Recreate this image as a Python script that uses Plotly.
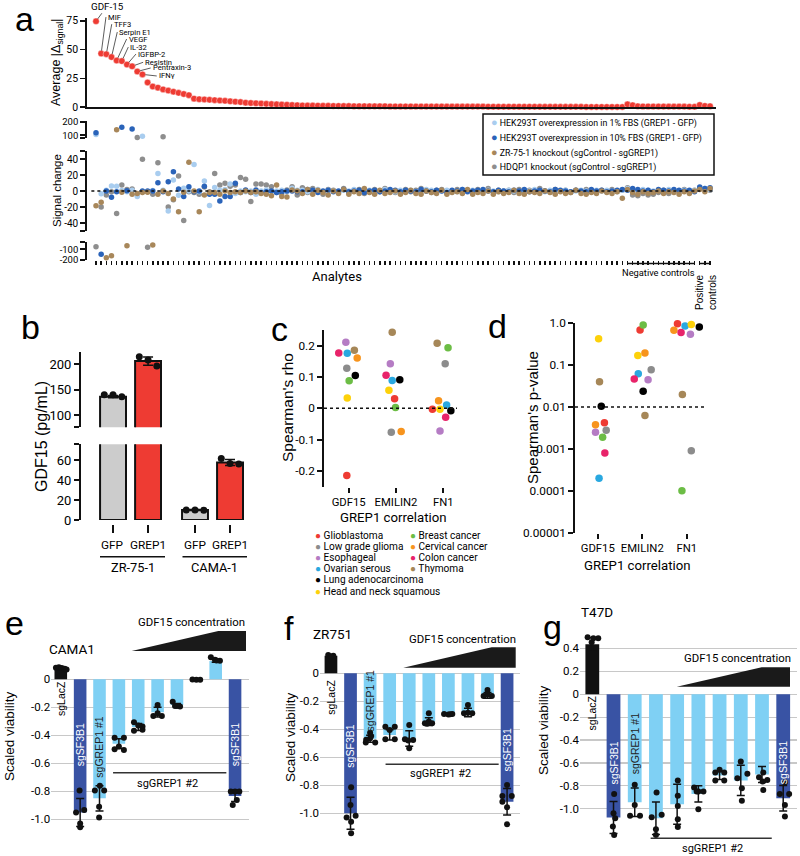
import plotly.graph_objects as go

W, H = 800, 856
def X(px): return px / W
def Y(py): return 1 - py / H
def dx_(a, b): return [X(a), X(b)]
def dy_(top, bottom): return [Y(bottom), Y(top)]

NARROW = "Roboto, Liberation Sans, sans-serif"
REG = "Liberation Sans, Arial, sans-serif"
BLACK = "#111111"
RED = "#ee3b33"

# ---------------- panel a data ----------------
avg_signal = [74.5, 46.5, 46, 43.5, 40.5, 40, 37, 35.5, 31, 28.5,
              21.5, 18, 17, 15.5, 14.5, 13.5, 12.5, 11.5, 10.5, 7.5,
              7, 6.8, 6.5, 6.2, 5.9, 5.6, 5.2, 4.9, 4.5, 4.0,
              3.7, 3.5, 3.3, 3.0, 2.8, 2.6, 2.4, 2.2, 2.0, 1.8,
              1.6, 1.5, 1.5, 1.4, 1.3, 1.3, 1.2, 1.2, 1.1, 1.1,
              1.0, 1.0, 1.0, 0.9, 0.9, 0.9, 0.9, 0.8, 0.8, 0.8,
              0.8, 0.8, 0.7, 0.7, 0.7, 0.7, 0.7, 0.7, 0.6, 0.6,
              0.6, 0.6, 0.6, 0.6, 0.6, 0.6, 0.5, 0.5, 0.5, 0.5,
              0.5, 0.5, 0.5, 0.5, 0.5, 0.5, 0.4, 0.4, 0.4, 0.4,
              0.4, 0.4, 0.4, 0.4, 0.4, 0.3, 0.3, 0.3, 0.3, 0.3,
              0.3, 0.3, 0.3,
              2.6, 1.8, 0.9, 0.8, 0.8, 0.7, 0.7, 0.7, 0.6, 0.6, 0.6, 0.6, 0.5, 0.5,
              2.0, 1.2, 1.0]
n_analytes, n_negative, n_positive = 103, 14, 3
labeled_names = ["GDF-15", "MIF", "TFF3", "Serpin E1", "VEGF", "IL-32",
                 "IGFBP-2", "Resistin", "Pentraxin-3", "IFNγ"]

hek_1pct = [105, -3.3, 1, 6.3, 6, 0.5, -1, 1, -7, 93,
            -1, 0.5, 22, 1, -25, 13.7, -5.4, 3.3, 0, 33,
            -1, 12.5, -18, 4.5, 1, 2, 8.7, -3, 0, -1,
            0, -4, 0, 1.2, -1, 0, 1, -1, 3.3, 1,
            1, -1, 0, 2, -1, 1, 0, -2, 1, 0, 2, -1, 0, 1, -1, 0, 2, 0, -1, 1,
            0, 1, -1, 0, 2, 1, -1, 0, 1, 0, -1, 2, 0, 1, -1, 0, 1, 0, -1, 0,
            1, 0, -1, 1, 0, 2, 0, -1, 1, 0, 0, 1, -1, 0, 1, 0, -1, 1, 0, 1,
            0, -1, 1, 3, 1, 0, 2, 1, 0, 1, 0, 2, 1, 0, 1, 0, 1, 4, 3, 2]
hek_10pct = [118, -147, 0, -7.9, -1, 158, 0.4, 145, 50.4, 0,
             0, 0, 10.4, -1, 11.7, 24.2, 2.5, -7, 5.4, -1,
             0, 6, -4, -4, -12.5, -7, -7, 9.6, -2, 1.2,
             -2, 1.2, -2, -1, 0, -2, -1, 0, 0, -1,
             -1, 2, 1, -2, 0, 1, -1, 0, 2, -1, 0, 1, -2, 0, 1, -1, 0, 2, 1, -1,
             1, 0, -1, 2, 0, -1, 1, 0, -2, 1, 0, 2, -1, 0, 1, 2, 0, -1, 1, 0,
             -1, 1, 0, 2, -1, 0, 1, 0, -1, 2, 1, 0, -1, 1, 0, -1, 2, 0, 1, -1,
             0, 1, 2, 1, 3, 2, 0, 1, -1, 2, 1, 0, 2, 1, 0, 1, -1, 5, 3, 4]
zr751_ko = [-18.4, -14, -179, -160, 140, -1.7, -66, -4, -3, -2,
            -1.7, -60, -4, 0, -3, -10, -26, -1.7, 36, 0,
            -26, -5, -2, -2, -4, 0, -2, -1, -2, 0,
            -2, -1, -3, -4, -6, 7.5, -7, -7.5, 1.2, 0,
            -3, 2, -4, 1, -2, -5, 0, -3, 2, -4, -1, -3, 3, -2, -4, 1, -3, -2, 0, -4,
            -2, 1, -3, -4, 0, -2, -3, 1, -4, -2, -1, -3, 2, -4, -2, -3, 0, -4, -1, -3,
            -2, 1, -3, -4, -1, -2, -3, 0, -2, -4, -1, -3, -2, 1, -3, -4, -2, -3, 0, -2,
            -3, -1, -9, 2, -2, -4, -1, -3, -2, 0, -3, -1, -2, -4, -1, -3, 0, 2, -1, 3]
hdqp1_ko = [-76, -20, -5, -1, -28, 7.5, 2, 2.5, 83, 39.6,
            -81, -4, 35.4, 88, -20, -11, 18.7, -37, -1, -2,
            -4, 5, -1, 22, 7.5, 9.6, 6, 7.5, 17, 14.6,
            -13, 8.7, 8.7, 7.5, 5.4, -2, -3, 1.2, 5.4, -5,
            4, -2, 3, 0, -4, 2, 1, -1, 3, -2, 1, 2, -3, 0, 2, -1, 3, 1, -2, 0,
            2, -1, 1, 3, 0, -2, 1, 2, 0, -1, 2, 0, 1, -2, 2, 0, 3, -1, 1, 0,
            1, -2, 2, 0, 1, -1, 3, 0, -1, 2, 0, 1, -2, 1, 0, 2, -1, 0, 1, 0,
            2, 0, 1, 4, -5, -6, -3, -5, -4, -2, 1, -3, 0, -1, 2, 0, 1, 3, 2, 1]

a_series = [
    ("HEK293T overexpression in 1% FBS (GREP1 - GFP)", hek_1pct, "#a9cdef"),
    ("HEK293T overexpression in 10% FBS (GREP1 - GFP)", hek_10pct, "#2a63b9"),
    ("ZR-75-1 knockout (sgControl - sgGREP1)", zr751_ko, "#a8875a"),
    ("HDQP1 knockout (sgControl - sgGREP1)", hdqp1_ko, "#8e8e8e"),
]
draw_order = [3, 0, 1, 2]

# ---------------- panel b data ----------------
b_cells = ["ZR-75-1", "CAMA-1"]
b_conditions = ["GFP", "GREP1"]
b_means = [136.4, 205.8, 10.0, 57.5]
b_err = [2.0, 8.0, 0.5, 3.0]
b_points = [[140, 140, 136], [214, 208, 196], [10, 10, 9.7], [61.5, 56.5, 56]]
b_colors = ["#cccccc", RED, "#cccccc", RED]

# ---------------- panel c / d data ----------------
cancers = ["Glioblastoma", "Low grade glioma", "Esophageal", "Ovarian serous",
           "Lung adenocarcinoma", "Head and neck squamous", "Breast cancer",
           "Cervical cancer", "Colon cancer", "Thymoma"]
cancer_colors = ["#ee3b33", "#8c8c8c", "#b57cc4", "#29a8e0", "#000000",
                 "#fdd10a", "#6cbd45", "#f7941d", "#e8236a", "#a68758"]
genes = ["GDF15", "EMILIN2", "FN1"]
rho = {
    "GDF15":   [-0.214, 0.128, 0.211, 0.176, 0.105, 0.033, 0.088, 0.161, 0.177, 0.185],
    "EMILIN2": [0.031, -0.076, 0.142, 0.089, 0.091, 0.058, 0.003, -0.074, 0.106, 0.243],
    "FN1":     [-0.003, 0.142, -0.072, 0.011, -0.008, -0.003, 0.193, 0.024, -0.028, 0.208],
}
rho_jitter = {
    "GDF15":   [-0.04, -0.04, -0.06, -0.03, 0.14, -0.03, 0.01, 0.18, -0.21, 0.12],
    "EMILIN2": [-0.03, -0.10, -0.12, -0.08, 0.08, -0.15, -0.01, 0.11, -0.21, -0.08],
    "FN1":     [-0.23, 0.04, -0.07, 0.07, 0.16, -0.07, 0.10, -0.10, 0.05, -0.13],
}
pval = {
    "GDF15":   [0.0042, 0.0028, 0.0025, 0.0002, 0.0105, 0.43, 0.0019, 0.0038, 0.0008, 0.040],
    "EMILIN2": [0.69, 0.078, 0.045, 0.062, 0.024, 0.17, 0.91, 0.195, 0.047, 0.0063],
    "FN1":     [0.98, 0.0009, 0.55, 0.86, 0.82, 0.93, 0.0001, 0.68, 0.60, 0.020],
}
pval_jitter = {
    "GDF15":   [0.15, 0.19, -0.05, 0.03, 0.08, 0.02, 0.11, -0.05, 0.16, 0.04],
    "EMILIN2": [-0.05, 0.20, 0.13, -0.09, 0.02, -0.10, 0.02, 0.06, -0.18, 0.06],
    "FN1":     [-0.21, 0.10, 0.08, -0.04, 0.28, 0.10, -0.11, -0.29, -0.13, -0.10],
}

# ---------------- panels e / f / g data ----------------
guides = ["sgLacZ", "sgSF3B1", "sgGREP1 #1", "sgGREP1 #2 d1", "sgGREP1 #2 d2",
          "sgGREP1 #2 d3", "sgGREP1 #2 d4", "sgGREP1 #2 d5", "sgGREP1 #2 d6", "sgSF3B1 b"]
guide_colors = ["#111111", "#3953a4"] + ["#7fd0f4"] * 7 + ["#3953a4"]

e_means = [0.078, -0.952, -0.85, -0.46, -0.34, -0.235, -0.184, -0.004, 0.131, -0.833]
e_err = [0.008, 0.10, 0.09, 0.035, 0.025, 0.035, 0.012, 0.003, 0.01, 0.04]
e_pts = [[0.082, 0.086, 0.080, 0.075, 0.070], [-0.795, -0.952, -0.933, -1.03, -1.057],
         [-0.76, -0.795, -0.795, -0.91, -0.988], [-0.417, -0.417, -0.50, -0.48, -0.505],
         [-0.307, -0.338, -0.367, -0.36, -0.33], [-0.183, -0.262, -0.262, -0.243],
         [-0.16, -0.19, -0.195, -0.19], [-0.002, -0.004, -0.003],
         [0.157, 0.14, 0.133, 0.135], [-0.802, -0.802, -0.802, -0.862, -0.898]]
e_jit = [[-0.25, -0.1, 0.05, 0.2, 0.3], [-0.03, -0.21, 0.21, 0, 0], [0.02, -0.24, 0.24, -0.02, -0.02],
         [-0.22, 0.26, -0.22, 0, 0.26], [-0.22, 0.22, -0.22, 0.22, 0], [0, -0.22, 0.22, 0],
         [-0.22, 0, 0.16, -0.1], [-0.2, 0, 0.2], [-0.25, -0.04, 0.22, 0.04], [-0.22, 0.22, 0, 0.09, -0.12]]

f_means = [0.126, -1.0, -0.467, -0.44, -0.466, -0.345, -0.292, -0.28, -0.158, -0.917]
f_err = [0.005, 0.114, 0.025, 0.037, 0.055, 0.028, 0.006, 0.03, 0.02, 0.095]
f_pts = [[0.13, 0.125, 0.12], [-0.814, -0.94, -1.03, -1.017, -1.06, -1.143],
         [-0.424, -0.495, -0.495, -0.464, -0.45, -0.474], [-0.381, -0.381, -0.471, -0.471, -0.405],
         [-0.369, -0.471, -0.476, -0.536, -0.48], [-0.286, -0.357, -0.357, -0.345, -0.36],
         [-0.29, -0.295, -0.29, -0.293], [-0.226, -0.286, -0.286, -0.281],
         [-0.119, -0.162, -0.162, -0.152], [-0.798, -0.876, -0.876, -0.957, -0.917, -1.079]]
f_jit = [[-0.14, 0.12, 0], [0.03, 0, -0.2, 0.26, 0.03, 0.03], [0, -0.22, 0.26, 0, 0.05, -0.2],
         [-0.22, 0.26, -0.22, 0.26, 0], [0, -0.22, 0.2, 0, -0.05], [0, -0.2, 0.17, 0, -0.09],
         [-0.22, 0, 0.2, 0.09], [0, -0.2, 0.22, 0], [0, -0.2, 0.22, 0], [0, -0.24, 0.24, 0, -0.24, 0]]

g_means = [0.436, -1.076, -0.943, -1.082, -0.96, -0.87, -0.71, -0.753, -0.70, -0.908]
g_err = [0.06, 0.14, 0.124, 0.142, 0.175, 0.07, 0.035, 0.132, 0.07, 0.112]
g_pts = [[0.497, 0.454, 0.489, 0.489], [-0.87, -1.039, -1.082, -1.155, -1.228],
         [-0.791, -0.966, -1.062, -1.062], [-0.858, -1.073, -1.053, -1.178, -1.228],
         [-0.753, -0.887, -0.975, -1.091, -1.16], [-0.815, -0.849, -0.849, -0.849, -1.004],
         [-0.66, -0.684, -0.684, -0.753, -0.753], [-0.588, -0.733, -0.695, -0.82, -0.931],
         [-0.684, -0.724, -0.748, -0.762, -0.835], [-0.768, -0.87, -0.87, -0.966, -1.068]]
g_jit = [[-0.22, -0.03, 0.28, 0.05], [0.03, 0, 0.08, -0.03, 0.03], [0, 0, -0.22, 0.25],
         [0.03, -0.2, 0.27, 0, 0], [0.03, 0.03, 0.03, 0.03, 0.03], [-0.2, 0, 0.24, -0.08, 0],
         [0, -0.2, 0.22, -0.2, 0.22], [0, -0.16, 0.31, 0.05, 0.05], [0.06, -0.14, 0.25, 0.03, 0.06],
         [0.08, -0.16, 0.28, 0.08, 0.08]]

# =========================================================
fig = go.Figure()
N = len(avg_signal)
idx = list(range(N))

# panel a top
fig.add_trace(go.Scatter(x=idx, y=avg_signal, mode="markers", xaxis="x", yaxis="y",
                         marker=dict(color=RED, size=6.5, line=dict(color="white", width=0.4)),
                         showlegend=False, cliponaxis=False, hoverinfo="skip"))

A_TOP = [77, 205]
A_MID = [-50, 50]
A_BOT = [-200, -29]
for k in draw_order:
    name, vals, col = a_series[k]
    segs = {"y2": ([], []), "y3": ([], []), "y4": ([], [])}
    for i, v in enumerate(vals):
        key = "y2" if v > A_MID[1] else ("y4" if v < A_MID[0] else "y3")
        segs[key][0].append(i)
        segs[key][1].append(v)
    for key, (xs, ys) in segs.items():
        fig.add_trace(go.Scatter(x=xs, y=ys, mode="markers", xaxis="x2", yaxis=key,
                                 marker=dict(color=col, size=5.5), name=name,
                                 legendgroup=name, showlegend=False,
                                 cliponaxis=False, hoverinfo="skip"))

# panel b
b_x = [g * 2.34 + c for g in range(len(b_cells)) for c in range(len(b_conditions))]
for ya, show_err in (("y5", [True, True, False, False]), ("y6", [False, False, True, True])):
    fig.add_trace(go.Bar(x=b_x, y=b_means, xaxis="x3", yaxis=ya, width=0.74,
                         marker=dict(color=b_colors, line=dict(color=BLACK, width=2)),
                         error_y=dict(type="data", array=[e if s else 0 for e, s in zip(b_err, show_err)],
                                      color=BLACK, thickness=1.5, width=5),
                         showlegend=False, hoverinfo="skip"))
for j, pts in enumerate(b_points):
    for ya in ("y5", "y6"):
        fig.add_trace(go.Scatter(x=[b_x[j] + d for d in (-0.25, 0.0, 0.25)], y=pts,
                                 xaxis="x3", yaxis=ya, mode="markers",
                                 marker=dict(color=BLACK, size=7), showlegend=False,
                                 cliponaxis=True, hoverinfo="skip"))

# panels c and d
for ci, cname in enumerate(cancers):
    xs_c = [gi + rho_jitter[g][ci] for gi, g in enumerate(genes)]
    ys_c = [rho[g][ci] for g in genes]
    fig.add_trace(go.Scatter(x=xs_c, y=ys_c, mode="markers", xaxis="x4", yaxis="y7",
                             marker=dict(color=cancer_colors[ci], size=7.5), name=cname,
                             showlegend=False, cliponaxis=False, hoverinfo="skip"))
    xs_d = [gi + pval_jitter[g][ci] for gi, g in enumerate(genes)]
    ys_d = [pval[g][ci] for g in genes]
    fig.add_trace(go.Scatter(x=xs_d, y=ys_d, mode="markers", xaxis="x5", yaxis="y8",
                             marker=dict(color=cancer_colors[ci], size=7.5), name=cname,
                             showlegend=False, cliponaxis=False, hoverinfo="skip"))

# panels e, f, g
for xa, ya, means, errs, pts, jit in (("x6", "y9", e_means, e_err, e_pts, e_jit),
                                       ("x7", "y10", f_means, f_err, f_pts, f_jit),
                                       ("x8", "y11", g_means, g_err, g_pts, g_jit)):
    fig.add_trace(go.Bar(x=list(range(len(guides))), y=means, xaxis=xa, yaxis=ya, width=0.65,
                         marker=dict(color=guide_colors, line=dict(width=0)),
                         error_y=dict(type="data", array=errs, color=BLACK, thickness=1.5, width=4),
                         showlegend=False, hoverinfo="skip"))
    px_, py_ = [], []
    for bi, (vals, js) in enumerate(zip(pts, jit)):
        for v, j in zip(vals, js):
            px_.append(bi + j)
            py_.append(v)
    fig.add_trace(go.Scatter(x=px_, y=py_, xaxis=xa, yaxis=ya, mode="markers",
                             marker=dict(color=BLACK, size=6), showlegend=False,
                             cliponaxis=False, hoverinfo="skip"))

# =========================================================
ax_common = dict(showgrid=False, zeroline=False, color="black")
yl = dict(showline=True, linecolor=BLACK, linewidth=1.8, ticks="outside", ticklen=5,
          tickwidth=1.8, tickcolor=BLACK)
aspan = 5.16
a_range = [-(96 - 87) / aspan, -(96 - 87) / aspan + (716 - 87) / aspan]

layout_axes = dict(
    xaxis=dict(domain=dx_(87, 716), range=a_range, anchor="y", showline=True, linecolor=BLACK,
               linewidth=1.5, ticks="", showticklabels=False, **ax_common),
    yaxis=dict(domain=dy_(18, 107.3), range=[0, 77.3], anchor="x", tickvals=[0, 25, 50, 75],
               tickfont=dict(family=NARROW, size=10.5), **yl, **ax_common),
    xaxis2=dict(domain=dx_(87, 716), range=a_range, anchor="y4", showline=False, ticks="outside",
                tickvals=idx, ticklen=4, tickwidth=1.5, tickcolor=BLACK, showticklabels=False,
                **ax_common),
    yaxis2=dict(domain=dy_(121, 138.3), range=A_TOP, anchor="x2", tickvals=[77, 100, 200],
                ticktext=["", "100", "200"], tickfont=dict(family=NARROW, size=9.5), **yl, **ax_common),
    yaxis3=dict(domain=dy_(151, 231), range=A_MID, anchor="x2",
                tickvals=[-50, -40, -20, 0, 20, 40, 50],
                ticktext=["", "-40", "-20", "0", "20", "40", ""],
                tickfont=dict(family=NARROW, size=10), **yl, **ax_common),
    yaxis4=dict(domain=dy_(241.7, 260), range=A_BOT, anchor="x2", tickvals=[-200, -100, -29],
                ticktext=["-200", "-100", ""], tickfont=dict(family=NARROW, size=9.5), **yl, **ax_common),
    # panel b
    xaxis3=dict(domain=dx_(80.7, 250), range=[-0.923, 3.91], anchor="free", position=Y(524),
                showline=False, ticks="outside", tickvals=b_x, ticklen=8, tickwidth=1.5,
                tickcolor=BLACK, showticklabels=False, **ax_common),
    yaxis5=dict(domain=dy_(351.7, 427.3), range=[76.6, 224], anchor="x3",
                tickvals=[76.6, 100, 150, 200], ticktext=["", "100", "150", "200"],
                tickfont=dict(family=NARROW, size=13), **yl, **ax_common),
    yaxis6=dict(domain=dy_(444.3, 520), range=[0, 75.7], anchor="x3",
                tickvals=[0, 20, 40, 60, 75.7], ticktext=["0", "20", "40", "60", ""],
                tickfont=dict(family=NARROW, size=13), **yl, **ax_common),
    # panel c
    xaxis4=dict(domain=dx_(324, 460), range=[-0.522, 2.353], anchor="y7", showline=False,
                ticks="outside", ticklen=5, tickwidth=1.8, tickcolor=BLACK, tickangle=0,
                tickvals=[0, 1, 2], ticktext=genes, tickfont=dict(family=NARROW, size=11.3),
                **ax_common),
    yaxis7=dict(domain=dy_(330, 486.7), range=[-0.25, 0.25], anchor="x4",
                tickvals=[-0.2, -0.1, 0, 0.1, 0.2], ticktext=["-0.2", "-0.1", "0", "0.1", "0.2"],
                tickfont=dict(family=NARROW, size=11.8), **yl, **ax_common),
    # panel d
    xaxis5=dict(domain=dx_(575, 706), range=[-0.51, 2.43], anchor="y8", showline=False,
                ticks="outside", ticklen=5, tickwidth=1.8, tickcolor=BLACK, tickangle=0,
                tickvals=[0, 1, 2], ticktext=genes, tickfont=dict(family=NARROW, size=11.3),
                **ax_common),
    yaxis8=dict(domain=dy_(323.3, 532.7), type="log", range=[-5, 0], anchor="x5",
                tickvals=[1, 0.1, 0.01, 0.001, 0.0001, 0.00001],
                ticktext=["1.0", "0.1", "0.01", "0.001", "0.0001", "0.00001"],
                tickfont=dict(family=NARROW, size=11.8), **yl, **ax_common),
)
bar_y = dict(showgrid=True, gridcolor="#c8c8c8", gridwidth=1.2, zeroline=False, showline=False,
             ticks="", tickfont=dict(family=NARROW, size=11.5), color="black")
bar_x = dict(showgrid=False, zeroline=False, showline=False, ticks="", showticklabels=False)
vtick = [0, -0.2, -0.4, -0.6, -0.8, -1.0]
vtext = ["0", "-0.2", "-0.4", "-0.6", "-0.8", "-1.0"]
layout_axes.update(
    xaxis6=dict(domain=dx_(51.1, 249), range=[-0.5, 9.72], anchor="y9", **bar_x),
    yaxis9=dict(domain=dy_(655.5, 830.5), range=[-1.08, 0.17], anchor="x6",
                tickvals=vtick, ticktext=vtext, **bar_y),
    xaxis7=dict(domain=dx_(320, 520), range=[-0.56, 9.66], anchor="y10", **bar_x),
    yaxis10=dict(domain=dy_(650.9, 835.7), range=[-1.16, 0.16], anchor="x7",
                 tickvals=vtick, ticktext=vtext, **bar_y),
    xaxis8=dict(domain=dx_(580, 797), range=[-0.58, 9.65], anchor="y11", **bar_x),
    yaxis11=dict(domain=dy_(637, 837.4), range=[-1.25, 0.5], anchor="x8",
                 tickvals=[0.4, 0.2] + vtick, ticktext=["0.4", "0.2"] + vtext, **bar_y),
)

ann = []
def txt(x, y, s, size, family=NARROW, angle=0, xanchor="center", yanchor="middle", color="black"):
    ann.append(dict(x=X(x), y=Y(y), xref="paper", yref="paper", text=s, showarrow=False,
                    font=dict(family=family, size=size, color=color), textangle=angle,
                    xanchor=xanchor, yanchor=yanchor))

# panel letters
for L, x, y in (("a", 24, 19), ("b", 30, 327), ("c", 279, 329), ("d", 497, 326),
                ("e", 14, 623), ("f", 289, 628), ("g", 552, 627)):
    txt(x, y, L, 34, family=REG)

# panel a labels
txt(57, 62, "Average |Δ<sub>signal</sub>|", 12.5, family=REG, angle=-90)
txt(57, 190, "Signal change", 11.5, family=REG, angle=-90)
txt(337, 276, "Analytes", 13)
txt(658, 272, "Negative controls", 9.3)
txt(706, 293, "Positive<br>controls", 10, family=REG, angle=-90)
label_offsets = [(11, -15, "center"), (4.8, -36.5, "left"), (5.4, -30, "left"), (5.8, -25, "left"),
                 (10, -21.5, "left"), (6.5, -14, "left"), (9, -10.5, "left"), (11, -4, "left"),
                 (13.4, -3.5, "left"), (14.3, 1.6, "left")]
for i, (name, (ox, oy, xa)) in enumerate(zip(labeled_names, label_offsets)):
    ann.append(dict(x=i, y=avg_signal[i], xref="x", yref="y", text=name, showarrow=True,
                    arrowhead=0, arrowwidth=0.8, arrowcolor="#333", ax=ox, ay=oy, standoff=3,
                    xanchor=xa, yanchor="middle",
                    font=dict(family=NARROW, size=9.8 if i == 0 else 7.6, color="black")))

# panel a legend (boxed)
leg_rows_a = [122, 137.5, 152.5, 167]
for (name, vals, col), ypx in zip(a_series, leg_rows_a):
    ann.append(dict(x=X(489), y=Y(ypx), xref="paper", yref="paper",
                    text=f'<span style="color:{col};font-size:11px">●</span> {name}',
                    showarrow=False, xanchor="left", yanchor="middle",
                    font=dict(family=NARROW, size=8.8, color="black")))

# panel b labels
txt(42, 437, "GDF15 (pg/mL)", 16, family=REG, angle=-90)
for j, xpx in enumerate((113, 148, 195, 230)):
    txt(xpx, 545, b_conditions[j % 2], 11.8)
txt(133, 567, b_cells[0], 12.8)
txt(214, 567, b_cells[1], 12.8)

# panel c / d labels
txt(288, 408, "Spearman's rho", 15.5, family=REG, angle=-90)
txt(393, 517, "GREP1 correlation", 13.2)
txt(532, 418, "Spearman's p-value", 15, family=REG, angle=-90)
txt(637, 565, "GREP1 correlation", 13.2)
leg_rows = [535, 546.2, 557.4, 568.6, 579.8, 591]
for ci, cname in enumerate(cancers):
    col = 0 if ci < 6 else 1
    row = ci if ci < 6 else ci - 6
    xpx = 313 if col == 0 else 408
    ann.append(dict(x=X(xpx), y=Y(leg_rows[row]), xref="paper", yref="paper",
                    text=f'<span style="color:{cancer_colors[ci]};font-size:10px">●</span> {cname}',
                    showarrow=False, xanchor="left", yanchor="middle",
                    font=dict(family=NARROW, size=10.1, color="black")))

# panels e/f/g labels
for xpx, ypx in ((9, 736), (290, 737), (543, 730)):
    txt(xpx, ypx, "Scaled viability", 13.5, family=REG, angle=-90)
txt(72, 649, "CAMA1", 13.5)
txt(332, 634, "ZR751", 13.5)
txt(597, 612, "T47D", 13.5)
txt(191, 622, "GDF15 concentration", 11.4)
txt(462, 639, "GDF15 concentration", 11.4)
txt(737, 658, "GDF15 concentration", 11.4)
txt(167, 783, "sgGREP1 #2", 11)
txt(440, 773, "sgGREP1 #2", 11)
txt(712, 848, "sgGREP1 #2", 11)

inbar = {"x6": [(0, -0.135, "black"), (1, -0.47, "white"), (2, -0.485, "#222"), (9, -0.47, "white")],
         "x7": [(0, -0.167, "black"), (1, -0.52, "white"), (2, -0.2, "#222"), (9, -0.55, "white")],
         "x8": [(0, -0.165, "black"), (1, -0.6, "white"), (2, -0.43, "#222"), (9, -0.6, "white")]}
ymap = {"x6": "y9", "x7": "y10", "x8": "y11"}
short = {0: "sgLacZ", 1: "sgSF3B1", 2: "sgGREP1 #1", 9: "sgSF3B1"}
for xa, items in inbar.items():
    for bi, yv, col in items:
        ann.append(dict(x=bi, y=yv, xref=xa, yref=ymap[xa], text=short[bi], showarrow=False,
                        textangle=-90, font=dict(family=REG, size=10.5, color=col)))

shapes = []
# legend box panel a
shapes.append(dict(type="rect", xref="paper", yref="paper", x0=X(483), x1=X(714), y0=Y(175),
                   y1=Y(114), line=dict(color=BLACK, width=1.5), fillcolor="rgba(0,0,0,0)"))
# dotted zero lines
shapes.append(dict(type="line", xref="x2", yref="y3", x0=-0.9, x1=N - 0.2, y0=0, y1=0,
                   line=dict(color=BLACK, width=1.5, dash="dot")))
shapes.append(dict(type="line", xref="paper", yref="y7", x0=X(324), x1=X(457), y0=0, y1=0,
                   line=dict(color=BLACK, width=1.5, dash="dot")))
shapes.append(dict(type="line", xref="paper", yref="y8", x0=X(575), x1=X(705), y0=0.01, y1=0.01,
                   line=dict(color=BLACK, width=1.5, dash="dot")))
# control brackets (panel a)
shapes.append(dict(type="line", xref="x2", yref="paper", x0=n_analytes, x1=n_analytes + n_negative - 1,
                   y0=Y(263.5), y1=Y(263.5), line=dict(color=BLACK, width=1.5)))
shapes.append(dict(type="line", xref="x2", yref="paper", x0=n_analytes + n_negative,
                   x1=N - 1, y0=Y(263.5), y1=Y(263.5), line=dict(color=BLACK, width=1.5)))
# panel b group underlines
shapes.append(dict(type="line", xref="paper", yref="paper", x0=X(100), x1=X(165), y0=Y(556.7),
                   y1=Y(556.7), line=dict(color=BLACK, width=1.5)))
shapes.append(dict(type="line", xref="paper", yref="paper", x0=X(182.5), x1=X(247), y0=Y(556.7),
                   y1=Y(556.7), line=dict(color=BLACK, width=1.5)))
# sgGREP1 #2 lines
for xa, x0, x1, ypx in (("x6", 2.7, 8.55, 772.7), ("x7", 2.79, 8.57, 764.3), ("x8", 2.75, 8.46, 838.3)):
    shapes.append(dict(type="line", xref=xa, yref="paper", x0=x0, x1=x1, y0=Y(ypx), y1=Y(ypx),
                       line=dict(color="#333", width=1.5)))
# concentration wedges
def wedge(p):
    pts = " L ".join(f"{X(a):.5f},{Y(b):.5f}" for a, b in p)
    return "M " + pts + " Z"
for poly in ([(131.7, 651), (218.3, 631), (246, 631), (246, 651)],
             [(403.3, 667.7), (491.7, 647.3), (515.7, 647.3), (515.7, 667.7)],
             [(676.7, 686.7), (761.7, 667.3), (790, 667.3), (790, 686.7)]):
    shapes.append(dict(type="path", xref="paper", yref="paper", path=wedge(poly),
                       fillcolor="#1a1a1a", line=dict(width=0)))

fig.update_layout(
    width=W, height=H, margin=dict(l=0, r=0, t=0, b=0, autoexpand=False),
    paper_bgcolor="white", plot_bgcolor="white",
    font=dict(family=NARROW, color="black"),
    showlegend=False, hovermode=False,
    annotations=ann, shapes=shapes, bargap=0.3,
    **layout_axes,
)
fig.write_html("out.html",
               config={"displayModeBar": False, "staticPlot": True},
               post_script="document.body.style.margin='0';document.body.style.padding='0';"
                           "document.documentElement.style.overflow='hidden';")
